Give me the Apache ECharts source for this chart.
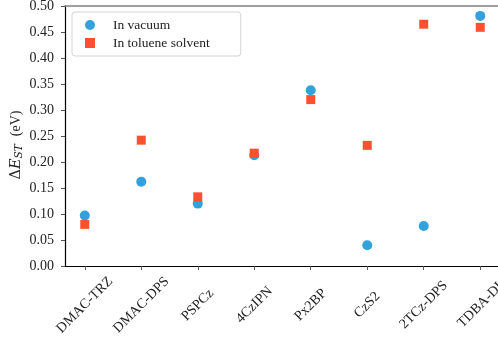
<!DOCTYPE html>
<html>
<head>
<meta charset="utf-8">
<script src="https://cdn.jsdelivr.net/npm/echarts@6/dist/echarts.min.js"></script>
<style>
  html, body { margin: 0; padding: 0; background: #fff; }
  #chart { width: 498px; height: 338px; }
</style>
</head>
<body>
<div id="chart"></div>
<script>
// Singlet-triplet gap of each TADF emitter, computed in vacuum and in toluene
const molecules = ['DMAC-TRZ', 'DMAC-DPS', 'PSPCz', '4CzIPN', 'Px2BP', 'CzS2', '2TCz-DPS', 'TDBA-DI'];
const gapVacuum = [0.097, 0.162, 0.120, 0.213, 0.338, 0.040, 0.077, 0.481];
const gapToluene = [0.080, 0.242, 0.133, 0.217, 0.320, 0.232, 0.465, 0.459];

const FONT = '"Liberation Serif", "DejaVu Serif", serif';
const MATH = '"DejaVu Serif", serif';
const BLUE = '#31a2dc';
const RED = '#fc5131';

const chart = echarts.init(document.getElementById('chart'), null, { renderer: 'canvas' });

const idx = molecules.map((_, i) => i);

chart.setOption({
  animation: false,
  backgroundColor: '#fff',
  grid: { left: 65, top: 6, width: 435, height: 260, containLabel: false, outerBoundsMode: 'none' },
  legend: {
    left: 72, top: 12,
    orient: 'vertical',
    padding: [6, 31, 6, 13],
    itemGap: 4,
    itemWidth: 10, itemHeight: 10,
    borderColor: '#d4d4d4', borderWidth: 1, borderRadius: 3,
    backgroundColor: '#fff',
    textStyle: { fontFamily: FONT, fontSize: 13.5, lineHeight: 14, color: '#222', padding: [0, 0, 0, 13] },
    data: [
      { name: 'In vacuum', icon: 'circle' },
      { name: 'In toluene solvent', icon: 'rect' }
    ]
  },
  xAxis: [{
    type: 'value',
    min: -0.35, max: 7.35,
    splitLine: { show: false },
    axisLine: { show: true, onZero: false, lineStyle: { color: '#000', width: 1.2 } },
    axisTick: { show: true, customValues: idx, length: 4, lineStyle: { color: '#555' } },
    axisLabel: {
      customValues: idx,
      rotate: 45,
      margin: 39,
      align: 'center',
      verticalAlign: 'middle',
      fontFamily: FONT, fontSize: 14, color: '#222',
      formatter: v => molecules[Math.round(v)]
    }
  }, {
    // top frame line
    type: 'value', position: 'top',
    min: -0.35, max: 7.35,
    splitLine: { show: false },
    axisLine: { show: true, onZero: false, lineStyle: { color: '#808080', width: 1.5 } },
    axisTick: { show: false }, axisLabel: { show: false }
  }],
  yAxis: {
    type: 'value',
    min: 0, max: 0.5, interval: 0.05,
    splitLine: { show: false },
    axisLine: { show: true, onZero: false, lineStyle: { color: '#000', width: 1.2 } },
    axisTick: { show: true, length: 4, lineStyle: { color: '#555' } },
    axisLabel: {
      margin: 11,
      fontFamily: FONT, fontSize: 14, color: '#222',
      formatter: v => v.toFixed(2)
    },
    name: '{d|Δ}{e|E}{s|ST}{u|(eV)}',
    nameLocation: 'middle',
    nameRotate: 90,
    nameGap: 40,
    nameMoveOverlap: false,
    nameTextStyle: {
      padding: [0, 18, 0, 0],
      rich: {
        d: { fontFamily: MATH, fontSize: 14.5, color: '#222' },
        e: { fontFamily: MATH, fontSize: 14.5, fontStyle: 'italic', color: '#222' },
        s: { fontFamily: MATH, fontSize: 10.5, fontStyle: 'italic', color: '#222', verticalAlign: 'bottom', padding: [6, 0, 0, 0] },
        u: { fontFamily: FONT, fontSize: 14, color: '#222', padding: [0, 0, 0, 8] }
      }
    }
  },
  series: [{
    name: 'In vacuum',
    type: 'scatter',
    symbol: 'circle',
    symbolSize: 10,
    itemStyle: { color: BLUE, opacity: 1 },
    data: gapVacuum.map((v, i) => [i, v]),
    z: 3
  }, {
    name: 'In toluene solvent',
    type: 'scatter',
    symbol: 'rect',
    symbolSize: 9,
    itemStyle: { color: RED, opacity: 1 },
    data: gapToluene.map((v, i) => [i, v]),
    z: 4
  }]
});
</script>
</body>
</html>
